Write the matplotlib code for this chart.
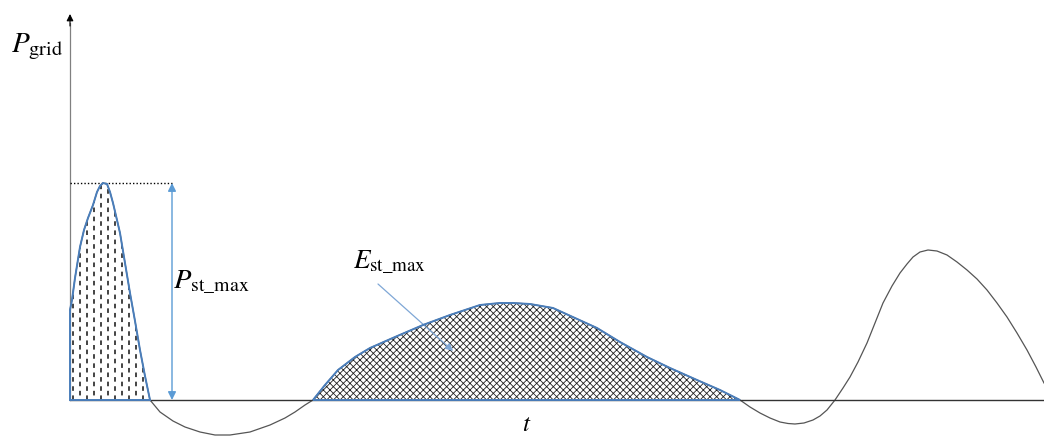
import numpy as np
import matplotlib
matplotlib.use("Agg")
import matplotlib.pyplot as plt
from matplotlib.patches import Polygon

# ---- data (t in px-like units, P above baseline) ----
t_curve = [70, 72, 75, 80, 84, 88, 93, 97, 100, 103, 107, 110, 113, 117, 120, 125, 130, 135, 140, 145, 150,
           160, 173, 185, 200, 215, 230, 250, 270, 285, 295, 305, 313,
           325, 338, 355, 370, 395, 423, 450, 480, 500, 513, 530, 553, 575, 597, 620, 647, 670, 697, 720, 740,
           750, 760, 770, 780, 788, 795, 804, 813, 820, 827, 835,
           843, 850, 858, 867, 875, 883, 892, 900, 907, 913, 920, 928, 937, 947, 957, 967, 977, 987,
           997, 1007, 1017, 1027, 1036, 1044]
p_curve = [90, 100, 122, 153, 170, 182, 195, 208, 214, 217, 216, 208, 197, 180, 167, 137, 107, 79, 50, 24, 0,
           -12, -21, -27, -32, -35, -35, -32, -25, -18, -12, -5, 0,
           15, 30, 43, 52, 63, 75, 85, 95, 97, 97, 96, 92, 82, 72, 58, 43, 32, 20, 10, 0,
           -7, -13, -18, -22, -23.5, -24, -23, -20, -16, -10, 0,
           12, 23, 38, 57, 77, 97, 114, 127, 136, 143, 148, 150, 149, 145, 138, 130, 121, 110,
           97, 83, 67, 50, 33, 17]

region1 = (70, 150)   # P_st_max pulse
region2 = (313, 740)  # E_st_max area
p_peak = 217
t_label_pos = 527

BLUE = "#4A7EBB"
LIGHTBLUE = "#5B9BD5"

plt.rcParams["mathtext.fontset"] = "stix"
plt.rcParams["hatch.linewidth"] = 0.6

fig = plt.figure(figsize=(10.44, 4.36), dpi=100)
ax = fig.add_axes([0, 0, 1, 1])
ax.set_xlim(0, 1044)
ax.set_ylim(-36, 400)
ax.axis("off")

t = np.array(t_curve, dtype=float)
p = np.array(p_curve, dtype=float)

m1 = (t >= region1[0]) & (t <= region1[1])
poly1 = np.vstack([[region1[0], 0]] + [np.column_stack([t[m1], p[m1]])] + [[region1[1], 0]])
m2 = (t >= region2[0]) & (t <= region2[1])
poly2 = np.column_stack([t[m2], p[m2]])

# dashed vertical hatch for region 1 (alternate columns offset)
patch1 = Polygon(poly1, closed=True, facecolor="white", edgecolor="none", zorder=1)
ax.add_patch(patch1)
xs_a = np.arange(region1[0] + 3, region1[1], 14)
xs_b = np.arange(region1[0] + 10, region1[1], 14)
for xs, off in ((xs_a, 0), (xs_b, 3)):
    vl = ax.vlines(xs, 0, p_peak, colors="#111111", linestyles=(off, (3, 3)), linewidth=1.1, zorder=2)
    vl.set_clip_path(patch1)
ax.add_patch(Polygon(poly1, closed=True, facecolor="none", edgecolor=BLUE, linewidth=1.4, zorder=4))

# crosshatch for region 2
ax.add_patch(Polygon(poly2, closed=True, facecolor="white", edgecolor="#222222",
                     hatch="xxxxx", linewidth=0, zorder=1))
ax.add_patch(Polygon(poly2, closed=True, facecolor="none", edgecolor=BLUE, linewidth=1.4, zorder=4))

# curve
ax.plot(t, p, color="#555555", linewidth=0.9, zorder=3)

# axes lines
ax.plot([70, 1044], [0, 0], color="#333333", linewidth=1.0, zorder=3)
ax.plot([70, 70], [0, 377], color="#808080", linewidth=0.9, zorder=3)
ax.annotate("", xy=(70, 386), xytext=(70, 374),
            arrowprops=dict(arrowstyle="-|>", color="black", lw=0.8, mutation_scale=10,
                            shrinkA=0, shrinkB=0))

# dotted level line
ax.plot([70, 172], [p_peak, p_peak], color="black", linestyle=(0, (1, 1.5)), linewidth=1.0, zorder=3)

# double arrow P_st_max
ax.annotate("", xy=(172, p_peak), xytext=(172, 0),
            arrowprops=dict(arrowstyle="<|-|>", color=LIGHTBLUE, lw=1.0, mutation_scale=12,
                            shrinkA=0, shrinkB=0))

# annotation arrow for E
ax.annotate("", xy=(453, 49), xytext=(378, 116),
            arrowprops=dict(arrowstyle="-|>", color="#7FA7D6", lw=0.9, mutation_scale=11,
                            shrinkA=0, shrinkB=0))

# labels
ax.text(11, 348, r"$P_{\mathrm{grid}}$", fontsize=21, ha="left", va="baseline")
ax.text(173, 112, r"$P_{\mathrm{st\_max}}$", fontsize=20.5, ha="left", va="baseline")
ax.text(353, 132, r"$E_{\mathrm{st\_max}}$", fontsize=19.5, ha="left", va="baseline")
ax.text(t_label_pos, -31, r"$t$", fontsize=18, ha="center", va="baseline")

fig.savefig("out.png", dpi=100)
